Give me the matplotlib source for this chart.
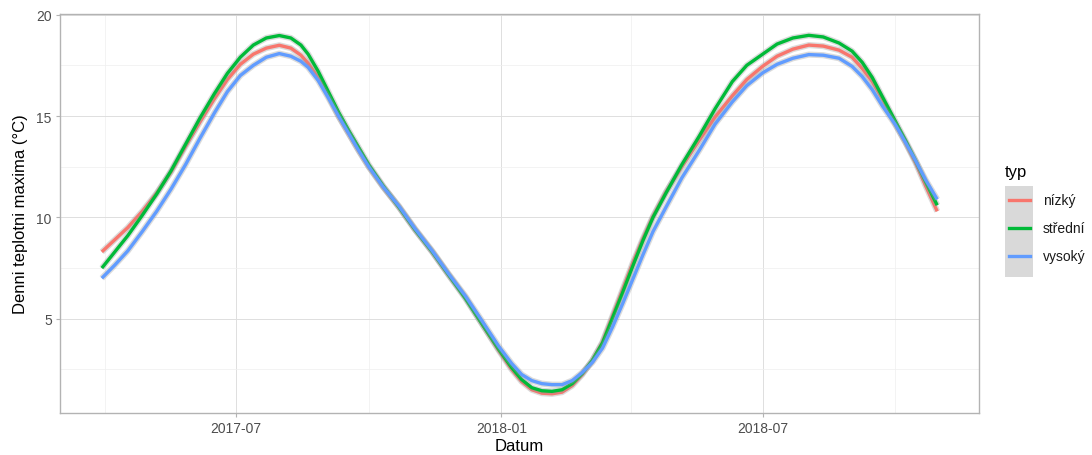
import matplotlib
matplotlib.use("Agg")
import matplotlib.pyplot as plt
import matplotlib.dates as mdates
from matplotlib.lines import Line2D
from matplotlib.patches import Rectangle
import pandas as pd

# values
dates = [
    "2017-03-30", "2017-04-08", "2017-04-17", "2017-04-27", "2017-05-07",
    "2017-05-17", "2017-05-27", "2017-06-06", "2017-06-16", "2017-06-25",
    "2017-07-04", "2017-07-13", "2017-07-22", "2017-07-31", "2017-08-08",
    "2017-08-15", "2017-08-20", "2017-08-27", "2017-09-03", "2017-09-10",
    "2017-09-17", "2017-09-24", "2017-10-01", "2017-10-11", "2017-10-22",
    "2017-11-02", "2017-11-14", "2017-11-25", "2017-12-07", "2017-12-18",
    "2017-12-30",
    "2018-01-08", "2018-01-15", "2018-01-22", "2018-01-29", "2018-02-05",
    "2018-02-12", "2018-02-19", "2018-02-26", "2018-03-05", "2018-03-12",
    "2018-03-19", "2018-03-26", "2018-04-02", "2018-04-09", "2018-04-16",
    "2018-04-25", "2018-05-06", "2018-05-18", "2018-05-29", "2018-06-10",
    "2018-06-20", "2018-07-01", "2018-07-11", "2018-07-22", "2018-08-02",
    "2018-08-12", "2018-08-23", "2018-09-01", "2018-09-08", "2018-09-15",
    "2018-09-22", "2018-10-01", "2018-10-08", "2018-10-15", "2018-10-22",
    "2018-10-30",
]
nizky = [
    8.3, 8.9, 9.5, 10.3, 11.2,
    12.25, 13.5, 14.7, 15.85, 16.8,
    17.55, 18.05, 18.35, 18.49, 18.35,
    18.0, 17.6, 16.9, 16.0, 15.0,
    14.15, 13.3, 12.5, 11.5, 10.5,
    9.4, 8.3, 7.2, 6.05, 4.8,
    3.45,
    2.5, 1.9, 1.5, 1.33, 1.3,
    1.38, 1.7, 2.25, 2.95, 3.85,
    5.15, 6.45, 7.76, 8.95, 10.05,
    11.25, 12.5, 13.8, 14.95, 16.0,
    16.8, 17.45, 17.95, 18.3, 18.5,
    18.45, 18.25, 17.9, 17.35, 16.7,
    15.85, 14.6, 13.7, 12.7, 11.55,
    10.3,
]
stredni = [
    7.5, 8.3, 9.1, 10.1, 11.15,
    12.3, 13.6, 14.9, 16.1, 17.1,
    17.9, 18.5, 18.85, 18.97, 18.85,
    18.5, 18.05, 17.2, 16.2, 15.2,
    14.3, 13.45, 12.6, 11.55, 10.5,
    9.4, 8.3, 7.2, 6.0, 4.8,
    3.5,
    2.6, 2.0, 1.6, 1.45, 1.42,
    1.5, 1.8, 2.3, 2.95, 3.8,
    5.05, 6.3, 7.6, 8.85, 10.0,
    11.2, 12.6, 14.0, 15.35, 16.7,
    17.5, 18.05, 18.55, 18.85, 18.98,
    18.9, 18.6, 18.2, 17.65, 16.9,
    15.95, 14.74, 13.8, 12.8, 11.75,
    10.6,
]
vysoky = [
    7.0, 7.65, 8.35, 9.3, 10.3,
    11.4, 12.6, 13.9, 15.15, 16.2,
    17.0, 17.5, 17.9, 18.08, 17.95,
    17.7, 17.4, 16.75, 15.9, 15.0,
    14.15, 13.3, 12.5, 11.5, 10.55,
    9.45, 8.35, 7.25, 6.12, 4.95,
    3.65,
    2.8, 2.25, 1.95, 1.8, 1.75,
    1.75, 1.95, 2.35, 2.85, 3.55,
    4.6, 5.75, 6.95, 8.15, 9.3,
    10.5, 11.95, 13.3, 14.6, 15.7,
    16.5, 17.13, 17.55, 17.85, 18.03,
    18.0, 17.85, 17.45, 16.95, 16.3,
    15.5, 14.57, 13.7, 12.8, 11.85,
    10.89,
]
labels = ["nízký", "střední", "vysoký"]
colors = ["#F8766D", "#00BA38", "#619CFF"]

x = pd.to_datetime(dates)

plt.rcParams["font.family"] = ["Liberation Sans", "DejaVu Sans"]
fig = plt.figure(figsize=(10.92, 4.56), dpi=100)
ax = fig.add_axes([0.055, 0.092, 0.8415, 0.875])

for series, color in zip([nizky, stredni, vysoky], colors):
    ax.plot(x, series, color="#999999", alpha=0.35, linewidth=4.4,
            solid_capstyle="butt", solid_joinstyle="round")
    ax.plot(x, series, color=color, linewidth=2.4,
            solid_capstyle="butt", solid_joinstyle="round")

ax.margins(x=0.05)
ax.set_ylim(0.35, 20.03)
ax.set_yticks([5, 10, 15, 20])
ax.set_yticks([2.5, 7.5, 12.5, 17.5], minor=True)
ax.xaxis.set_major_locator(mdates.MonthLocator(bymonth=[1, 7]))
ax.xaxis.set_major_formatter(mdates.DateFormatter("%Y-%m"))
ax.xaxis.set_minor_locator(mdates.MonthLocator(bymonth=[4, 10]))

ax.grid(which="major", color="#DEDEDE", linewidth=0.7)
ax.grid(which="minor", color="#EFEFEF", linewidth=0.5)
ax.set_axisbelow(True)
for spine in ax.spines.values():
    spine.set_color("#B3B3B3")
    spine.set_linewidth(1.0)
ax.tick_params(which="major", length=3, color="#B3B3B3", labelsize=10, labelcolor="#4D4D4D", pad=3)
ax.tick_params(which="minor", length=0)

ax.set_xlabel("Datum", fontsize=12, labelpad=2)
ax.set_ylabel("Denni teplotni maxima (°C)", fontsize=12, labelpad=6)

# legend drawn by hand to get the grey key column
fig.text(1005 / 1092, 1 - 172 / 456, "typ", fontsize=12, va="center", ha="left")
fig.add_artist(Rectangle((1005 / 1092, 1 - 278 / 456), 28 / 1092, 91 / 456,
                         transform=fig.transFigure, facecolor="#D9D9D9", edgecolor="none"))
for i, (label, color) in enumerate(zip(labels, colors)):
    yy = 1 - (201 + i * 28) / 456
    fig.add_artist(Line2D([1009 / 1092, 1030 / 1092], [yy, yy], transform=fig.transFigure,
                          color=color, linewidth=2.4))
    fig.text(1043 / 1092, yy, label, fontsize=10, va="center", ha="left", color="#1A1A1A")

fig.savefig("out.png", dpi=100)
